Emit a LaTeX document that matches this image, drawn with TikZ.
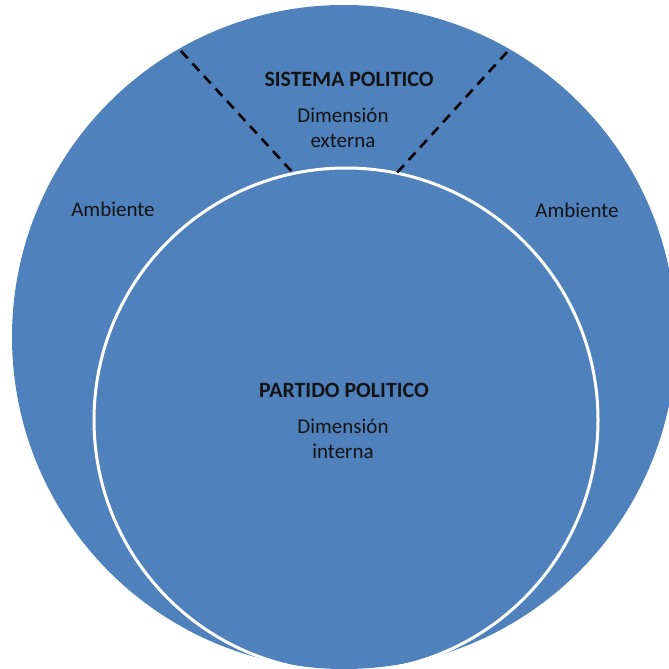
\documentclass[tikz,border=0pt]{standalone}
\usepackage{fontspec}
\setmainfont{Carlito}
\definecolor{sysblue}{HTML}{4F81BD}
\definecolor{labelink}{HTML}{141414}
\begin{document}
\begin{tikzpicture}[x=1pt,y=-1pt,
  label/.style={text=labelink,font=\fontsize{21}{25.5}\selectfont,align=center,inner sep=0pt},
  title/.style={label,font=\fontsize{21.8}{26}\selectfont\bfseries},
  divider/.style={draw=black,line width=2.6pt,dash pattern=on 10pt off 7pt}]
\useasboundingbox (0,0) rectangle (669,669);
\clip (0,0) rectangle (669,669);
% environment: the political system
\fill[sysblue] (344,337) circle[radius=332pt];
% the party, inside the system
\draw[white,line width=3pt] (346,420) circle[radius=252pt];
% boundaries of the external dimension
\coordinate (l1) at (181,51);
\coordinate (l2) at (295,175);
\coordinate (r1) at (507,52);
\coordinate (r2) at (395,175);
\draw[divider] (l1) -- (l2);
\draw[divider] (r1) -- (r2);
% texts
\node[title] (sys) at (349,79) {SISTEMA POLITICO};
\node[label] (ext) at (343,128) {Dimensión\\externa};
\node[label] (amb1) at (113,209) {Ambiente};
\node[label] (amb2) at (577,210) {Ambiente};
\node[title] (par) at (344,390) {PARTIDO POLITICO};
\node[label] (int) at (343,439) {Dimensión\\interna};
\end{tikzpicture}
\end{document}
